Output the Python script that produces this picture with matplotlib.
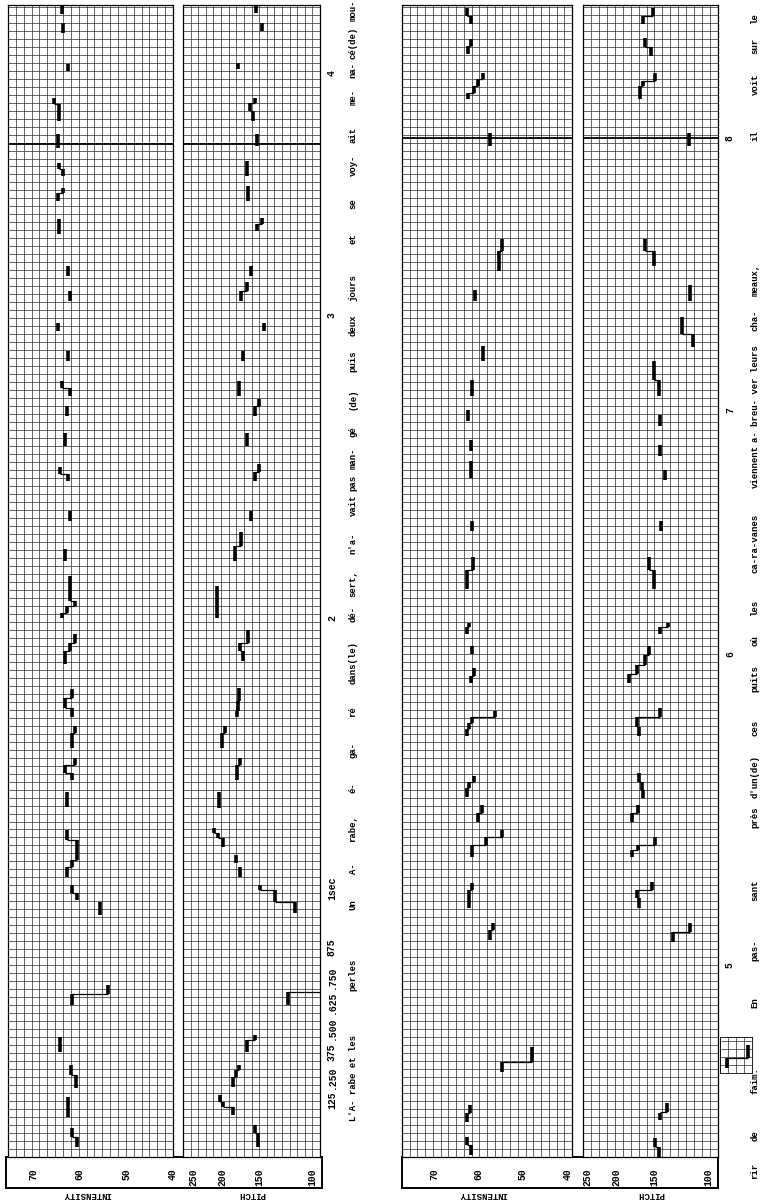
import numpy as np
import matplotlib
matplotlib.use("Agg")
from matplotlib import pyplot as plt
from matplotlib import transforms
from matplotlib.ticker import NullLocator

W, H = 770, 1201
MONO = "Liberation Mono"

# time span (s) covered by each of the two strips
strip_span = [(0.0, 4.24), (4.24, 8.48)]

intensity_ticks = [70, 60, 50, 40]
pitch_ticks = [250, 200, 150, 100]

time_ticks_left = [0.21, 0.294, 0.386, 0.474, 0.57, 0.662, 0.772, 0.99, 1.985, 3.10, 3.99]
time_labels_left = ["125", ".250", "375", ".500", ".625", ".750", "875", "1sec", "2", "3", "4"]
time_ticks_right = [4.946, 6.09, 6.99, 7.99]
time_labels_right = ["5", "6", "7", "8"]

words_left = ["L'A- rabe et les", "perles", "Un", "A-", "rabe,", "é-", "ga-", "ré",
              "dans(le)", "dé-", "sert,", "n'a-", "vait", "pas", "man-", "gé", "(de)",
              "puis", "deux", "jours", "et", "se", "voy-", "ait", "me-", "na-",
              "cé(de)", "mou-"]
words_left_t = [0.29, 0.67, 0.93, 1.06, 1.21, 1.36, 1.50, 1.64, 1.82, 2.0, 2.11, 2.26,
                2.40, 2.48, 2.57, 2.67, 2.79, 2.93, 3.06, 3.20, 3.38, 3.51, 3.65, 3.76,
                3.90, 4.0, 4.10, 4.22]
words_right = ["rir", "de", "faim.", "En", "pas-", "sant", "près", "d'un(de)", "ces",
               "puits", "où", "les", "ca-ra-vanes", "viennent", "a- breu- ver leurs",
               "cha-", "meaux,", "il", "voit", "sur", "le"]
words_right_t = [4.19, 4.32, 4.52, 4.81, 5.0, 5.22, 5.49, 5.64, 5.82, 6.0, 6.14, 6.26,
                 6.50, 6.78, 7.05, 7.32, 7.47, 8.0, 8.19, 8.33, 8.43]

# (start s, end s, value) steps, one list per voiced stretch
intensity_left = [
    [(0.037, 0.074, 60.6), (0.074, 0.107, 61.7)],
    [(0.147, 0.221, 62.5)],
    [(0.254, 0.301, 60.8), (0.301, 0.338, 61.9)],
    [(0.386, 0.441, 64.3)],
    [(0.559, 0.599, 61.7), (0.599, 0.632, 53.9)],
    [(0.890, 0.938, 55.6)],
    [(0.945, 0.971, 60.6), (0.971, 1.0, 61.7)],
    [(1.029, 1.066, 62.7), (1.066, 1.092, 61.7), (1.092, 1.165, 60.6), (1.165, 1.202, 62.7)],
    [(1.287, 1.342, 62.7)],
    [(1.386, 1.415, 61.7), (1.415, 1.441, 63.2), (1.441, 1.467, 61.0)],
    [(1.507, 1.559, 61.7), (1.559, 1.588, 61.0)],
    [(1.618, 1.654, 61.7), (1.654, 1.691, 63.2), (1.691, 1.724, 61.7)],
    [(1.816, 1.864, 63.2), (1.864, 1.893, 62.1), (1.893, 1.926, 61.0)],
    [(1.982, 2.004, 63.8), (2.004, 2.029, 62.7), (2.029, 2.048, 61.0), (2.048, 2.14, 62.1)],
    [(2.195, 2.239, 63.2)],
    [(2.342, 2.379, 62.1)],
    [(2.489, 2.515, 62.5), (2.515, 2.54, 64.3)],
    [(2.618, 2.665, 63.2)],
    [(2.728, 2.765, 62.7)],
    [(2.801, 2.83, 62.1), (2.83, 2.857, 63.8)],
    [(2.930, 2.967, 62.5)],
    [(3.040, 3.070, 64.7)],
    [(3.151, 3.188, 62.1)],
    [(3.243, 3.279, 62.5)],
    [(3.397, 3.452, 64.5)],
    [(3.518, 3.548, 64.7), (3.548, 3.566, 63.6)],
    [(3.610, 3.636, 63.6), (3.636, 3.658, 64.5)],
    [(3.713, 3.765, 64.7)],
    [(3.813, 3.875, 64.5), (3.875, 3.897, 65.6)],
    [(3.996, 4.022, 62.5)],
    [(4.136, 4.173, 63.6)],
    [(4.206, 4.235, 63.8)],
]

pitch_left = [
    [(0.037, 0.088, 151.5), (0.088, 0.118, 155.1)],
    [(0.154, 0.184, 183.7), (0.184, 0.202, 198.5), (0.202, 0.228, 203.1)],
    [(0.257, 0.294, 183.7), (0.294, 0.320, 179.5), (0.320, 0.338, 175.5)],
    [(0.386, 0.430, 165.0), (0.430, 0.449, 155.1)],
    [(0.559, 0.607, 120.3), (0.607, 0.651, 92.6)],
    [(0.897, 0.938, 114.0), (0.938, 0.982, 132.9), (0.982, 1.0, 149.3)],
    [(1.029, 1.066, 174.1)],
    [(1.081, 1.110, 179.5)],
    [(1.140, 1.173, 198.5), (1.173, 1.191, 206.2), (1.191, 1.210, 212.7)],
    [(1.283, 1.342, 204.7)],
    [(1.386, 1.441, 178.2), (1.441, 1.467, 174.1)],
    [(1.507, 1.559, 200.0), (1.559, 1.588, 195.4)],
    [(1.618, 1.643, 178.2), (1.643, 1.680, 176.8), (1.680, 1.728, 175.5)],
    [(1.827, 1.864, 170.1), (1.864, 1.893, 174.1), (1.893, 1.938, 163.7)],
    [(1.985, 2.10, 207.8)],
    [(2.195, 2.25, 181.0), (2.25, 2.30, 172.0)],
    [(2.342, 2.379, 160.0)],
    [(2.489, 2.52, 155.0), (2.52, 2.55, 150.0)],
    [(2.618, 2.665, 165.0)],
    [(2.728, 2.765, 155.0), (2.765, 2.79, 150.0)],
    [(2.801, 2.857, 175.0)],
    [(2.930, 2.967, 170.0)],
    [(3.040, 3.070, 145.0)],
    [(3.151, 3.188, 172.0), (3.188, 3.22, 165.0)],
    [(3.243, 3.279, 160.0)],
    [(3.408, 3.434, 152.7), (3.434, 3.456, 147.0)],
    [(3.518, 3.574, 163.7)],
    [(3.610, 3.665, 165.0)],
    [(3.721, 3.765, 152.7)],
    [(3.813, 3.849, 157.6), (3.849, 3.879, 161.2), (3.879, 3.897, 155.1)],
    [(4.004, 4.026, 176.8)],
    [(4.143, 4.173, 147.0)],
    [(4.210, 4.235, 153.9)],
]

intensity_right = [
    [(4.247, 4.284, 61.7), (4.284, 4.314, 62.7)],
    [(4.369, 4.402, 62.7), (4.402, 4.431, 61.9)],
    [(4.553, 4.589, 54.8), (4.589, 4.644, 48.1)],
    [(5.038, 5.075, 57.4), (5.075, 5.100, 56.8)],
    [(5.155, 5.222, 62.1), (5.222, 5.247, 61.4)],
    [(5.343, 5.387, 61.4), (5.387, 5.416, 58.3), (5.416, 5.442, 54.8)],
    [(5.472, 5.505, 60.1), (5.505, 5.534, 59.3)],
    [(5.564, 5.597, 62.7), (5.597, 5.619, 62.1), (5.619, 5.644, 61.1)],
    [(5.791, 5.817, 62.7), (5.817, 5.836, 62.1), (5.836, 5.858, 61.4), (5.858, 5.883, 56.4)],
    [(5.986, 6.012, 61.7), (6.012, 6.041, 61.1)],
    [(6.093, 6.122, 61.4)],
    [(6.166, 6.189, 62.5), (6.189, 6.207, 62.1)],
    [(6.33, 6.40, 62.5), (6.40, 6.45, 61.3)],
    [(6.545, 6.58, 61.5)],
    [(6.74, 6.80, 61.7)],
    [(6.84, 6.88, 61.7)],
    [(6.95, 6.99, 62.3)],
    [(7.04, 7.10, 61.5)],
    [(7.17, 7.225, 58.9)],
    [(7.39, 7.43, 60.8)],
    [(7.50, 7.575, 55.5), (7.575, 7.619, 54.8)],
    [(7.961, 8.008, 57.4)],
    [(8.133, 8.155, 62.3), (8.155, 8.181, 61.1), (8.181, 8.207, 60.1), (8.207, 8.229, 59.1)],
    [(8.299, 8.328, 62.3), (8.328, 8.354, 61.7)],
    [(8.409, 8.439, 61.7), (8.439, 8.468, 62.7)],
]

pitch_right = [
    [(4.24, 4.277, 145.0), (4.277, 4.310, 149.4)],
    [(4.376, 4.402, 143.8), (4.405, 4.439, 136.4)],
    [(5.030, 5.067, 130.3), (5.067, 5.100, 114.6)],
    [(5.155, 5.192, 168.7), (5.192, 5.222, 171.3), (5.222, 5.251, 152.9)],
    [(5.343, 5.369, 177.8), (5.369, 5.387, 170.0), (5.387, 5.416, 149.4)],
    [(5.472, 5.505, 177.8), (5.505, 5.534, 170.0)],
    [(5.560, 5.589, 163.6), (5.589, 5.619, 164.9), (5.619, 5.652, 168.7)],
    [(5.791, 5.821, 168.7), (5.821, 5.858, 171.3), (5.858, 5.891, 143.8)],
    [(5.986, 6.019, 182.0), (6.019, 6.049, 171.3), (6.049, 6.086, 161.2), (6.086, 6.122, 156.4)],
    [(6.166, 6.189, 143.8), (6.189, 6.207, 135.4)],
    [(6.33, 6.40, 150.0), (6.40, 6.45, 156.0)],
    [(6.545, 6.58, 143.0)],
    [(6.73, 6.77, 139.0)],
    [(6.82, 6.86, 144.0)],
    [(6.93, 6.97, 144.0)],
    [(7.04, 7.10, 145.0), (7.10, 7.17, 150.0)],
    [(7.22, 7.27, 112.0), (7.27, 7.33, 122.0)],
    [(7.39, 7.45, 115.0)],
    [(7.52, 7.575, 150.0), (7.575, 7.619, 161.2)],
    [(7.961, 8.008, 115.5)],
    [(8.133, 8.181, 167.4), (8.181, 8.199, 163.6), (8.199, 8.229, 149.4)],
    [(8.291, 8.325, 154.0), (8.325, 8.358, 161.2)],
    [(8.409, 8.439, 163.6), (8.439, 8.468, 151.7)],
]

pitch_inset = [
    [(4.567, 4.604, 86.6), (4.604, 4.652, 73.8)],
]


fig = plt.figure(figsize=(W / 100, H / 100), dpi=100)


def px_axes(x0, y0, x1, y1):
    return fig.add_axes([x0 / W, 1 - y1 / H, (x1 - x0) / W, (y1 - y0) / H])


def graph_paper(ax, ncols, t_lo, t_hi):
    ax.vlines(np.linspace(0, 1, ncols + 1), 0, 1, transform=ax.transAxes,
              colors="#3c3c3c", lw=0.55, zorder=0)
    rows = np.arange(t_lo, t_hi, 0.0294)
    ax.hlines(rows, 0, 1, transform=ax.get_yaxis_transform(),
              colors="#3c3c3c", lw=0.55, zorder=0)


def draw_steps(ax, groups):
    for g in groups:
        t0 = [s[0] for s in g]
        t1 = [s[1] for s in g]
        v = [s[2] for s in g]
        ax.vlines(v, t0, t1, colors="black", lw=2.6, zorder=3)
        for a, b in zip(g[:-1], g[1:]):
            ax.hlines(b[0], a[2], b[2], colors="black", lw=0.9, zorder=3)


def label_box(x0, x1):
    box = px_axes(x0, 1157, x1, 1188)
    box.set_facecolor("none")
    box.set_xticks([])
    box.set_yticks([])
    for sp in box.spines.values():
        sp.set_linewidth(1.4)


strips = [
    dict(xi=(8, 173), xp=(183, 320), box=(6, 322), ilim=(75.5, 39.9), plim=(269.8, 94.0),
         icols=21, pcols=18, idata=intensity_left, pdata=pitch_left,
         ticks=time_ticks_left, labels=time_labels_left, heavy=3.73,
         words=words_left, words_t=words_left_t, wx=353),
    dict(xi=(402, 572), xp=(583, 718), box=(402, 718), ilim=(77.2, 39.0), plim=(257.7, 92.7),
         icols=22, pcols=17, idata=intensity_right, pdata=pitch_right,
         ticks=time_ticks_right, labels=time_labels_right, heavy=7.99,
         words=words_right, words_t=words_right_t, wx=755),
]

for (t_lo, t_hi), s in zip(strip_span, strips):
    label_box(*s["box"])
    ax_i = px_axes(s["xi"][0], 5, s["xi"][1], 1157)
    ax_p = px_axes(s["xp"][0], 5, s["xp"][1], 1157)

    ax_i.set_xlim(*s["ilim"])
    ax_p.set_xscale("log")
    ax_p.set_xlim(*s["plim"])
    for ax, ncols in ((ax_i, s["icols"]), (ax_p, s["pcols"])):
        ax.set_ylim(t_lo, t_hi)
        graph_paper(ax, ncols, t_lo, t_hi)
        ax.axhline(s["heavy"], color="black", lw=1.3, zorder=1)
        for sp in ax.spines.values():
            sp.set_linewidth(0.9)

    draw_steps(ax_i, s["idata"])
    draw_steps(ax_p, s["pdata"])

    ax_i.set_yticks([])
    ax_i.set_xticks(intensity_ticks, [str(v) for v in intensity_ticks])
    ax_p.xaxis.set_minor_locator(NullLocator())
    ax_p.set_xticks(pitch_ticks, [str(v) for v in pitch_ticks])
    for ax in (ax_i, ax_p):
        ax.tick_params(axis="x", length=0, pad=8)
        for lab in ax.get_xticklabels():
            lab.set_rotation(90)
            lab.set_fontfamily(MONO)
            lab.set_fontweight("bold")
            lab.set_fontsize(7)

    ax_p.yaxis.tick_right()
    ax_p.set_yticks(s["ticks"], s["labels"])
    ax_p.yaxis.set_minor_locator(NullLocator())
    ax_p.tick_params(axis="y", length=0, pad=5)
    for lab in ax_p.get_yticklabels():
        lab.set_rotation(90)
        lab.set_va("center")
        lab.set_fontfamily(MONO)
        lab.set_fontweight("bold")
        lab.set_fontsize(7)

    trans = transforms.blended_transform_factory(fig.transFigure, ax_p.transData)
    for w, t in zip(s["words"], s["words_t"]):
        fig.text(s["wx"] / W, t, w, transform=trans, rotation=90, ha="center",
                 va="center", fontfamily=MONO, fontweight="bold", fontsize=6.5)

    cx_i = (s["xi"][0] + s["xi"][1]) / 2
    cx_p = (s["xp"][0] + s["xp"][1]) / 2
    fig.text(cx_i / W - 0.005, 1 - 1195 / H, "INTENSITY", rotation=180, ha="center",
             va="center", fontfamily=MONO, fontweight="bold", fontsize=6.5)
    fig.text(cx_p / W, 1 - 1195 / H, "PITCH", rotation=180, ha="center",
             va="center", fontfamily=MONO, fontweight="bold", fontsize=6.5)

# small extension piece beside the right pitch strip
ax_x = px_axes(720, 1037, 752, 1073)
ax_x.set_xscale("log")
ax_x.set_xlim(91.3, 71.7)
ax_x.set_ylim(4.549, 4.681)
graph_paper(ax_x, 4, 4.549, 4.681)
draw_steps(ax_x, pitch_inset)
ax_x.set_xticks([])
ax_x.set_yticks([])
ax_x.xaxis.set_minor_locator(NullLocator())
for sp in ax_x.spines.values():
    sp.set_linewidth(0.6)

fig.savefig("out.png", dpi=100)
